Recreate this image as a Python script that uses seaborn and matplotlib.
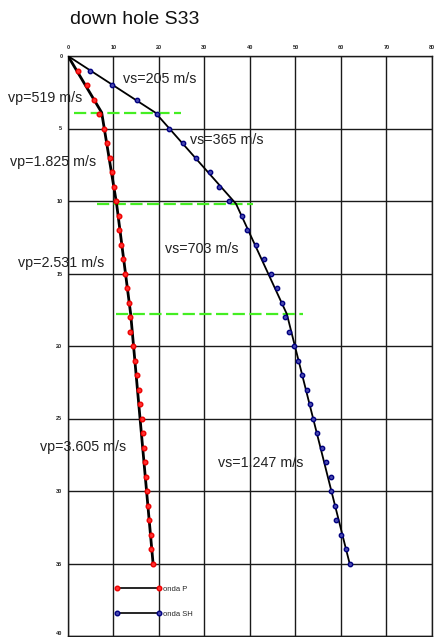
import numpy as np
import pandas as pd
import matplotlib
matplotlib.use("Agg")
import matplotlib.pyplot as plt
from matplotlib.lines import Line2D
import seaborn as sns

# ---------------- data ----------------
depth = list(range(1, 36))
t_p = [2.1, 4.2, 5.8, 6.9, 8.0, 8.6, 9.2, 9.6, 10.1, 10.5,
       11.1, 11.3, 11.6, 12.0, 12.6, 13.0, 13.4, 13.6, 13.7, 14.2,
       14.7, 15.2, 15.7, 15.8, 16.3, 16.5, 16.8, 16.9, 17.1, 17.3,
       17.5, 17.8, 18.2, 18.2, 18.6]
t_s = [4.8, 9.6, 15.1, 19.5, 22.1, 25.2, 28.1, 31.2, 33.2, 35.4,
       38.3, 39.4, 41.3, 43.1, 44.6, 45.9, 47.0, 47.7, 48.6, 49.7,
       50.6, 51.4, 52.5, 53.2, 53.9, 54.8, 55.8, 56.7, 57.7, 57.8,
       58.7, 59.0, 60.1, 61.2, 62.0]
layer_bounds = [0.0, 3.9, 10.2, 17.8, 35.0]
vp = [519, 1825, 2531, 3605]
vs = [205, 365, 703, 1247]
vp_labels = ["vp=519 m/s", "vp=1.825 m/s", "vp=2.531 m/s", "vp=3.605 m/s"]
vs_labels = ["vs=205 m/s", "vs=365 m/s", "vs=703 m/s", "vs=1.247 m/s"]
green_x0 = [1.3, 6.3, 10.5]
green_x1 = [24.8, 40.7, 51.7]
title = "down hole S33"
legend_labels = ["onda P", "onda SH"]

df = pd.DataFrame({"depth": depth, "tp": t_p, "ts": t_s})


def fit_polyline(t, v):
    d = np.asarray(depth, float)
    t = np.asarray(t, float)
    preds = []
    for i, vel in enumerate(v):
        lo, hi = layer_bounds[i], layer_bounds[i + 1]
        m = (d > lo) & (d <= hi + 0.3)
        if i == 0:
            b = 0.0
        else:
            b = np.mean(t[m] - d[m] / vel * 1000)
        preds.append((b, vel))
    times = [0.0]
    for k in range(1, len(layer_bounds) - 1):
        z = layer_bounds[k]
        a = preds[k - 1][0] + z / preds[k - 1][1] * 1000
        c = preds[k][0] + z / preds[k][1] * 1000
        times.append((a + c) / 2)
    z = layer_bounds[-1]
    times.append(preds[-1][0] + z / preds[-1][1] * 1000)
    return pd.DataFrame({"t": times, "depth": layer_bounds})


fit_p = fit_polyline(t_p, vp)
fit_s = fit_polyline(t_s, vs)

# ---------------- figure ----------------
sns.set_style("white")
plt.rcParams["font.family"] = ["Liberation Sans", "DejaVu Sans"]
fig = plt.figure(figsize=(4.39, 6.37), dpi=100)
ax = fig.add_axes([68 / 439, 1 / 637, (432 - 68) / 439, (636 - 56) / 637])

ax.set_xlim(0, 80)
ax.set_ylim(40, 0)
ax.set_xticks(np.arange(0, 81, 10))
ax.set_yticks(np.arange(0, 41, 5))
ax.xaxis.tick_top()
ax.tick_params(axis="both", labelsize=4, length=0, pad=4)
for lbl in ax.get_xticklabels() + ax.get_yticklabels():
    lbl.set_fontweight("bold")
ax.get_yticklabels()[-1].set_verticalalignment("bottom")
ax.grid(True, color="#1a1a1a", linewidth=1.0)
for s in ax.spines.values():
    s.set_color("#1a1a1a")
    s.set_linewidth(1.0)

# green layer boundaries
for z, x0, x1 in zip(layer_bounds[1:4], green_x0, green_x1):
    ax.plot([x0, x1], [z, z], color="#44ee22", linewidth=1.6,
            dashes=(5.5, 2.0), zorder=3)

# fitted lines
sns.lineplot(data=fit_p, x="t", y="depth", sort=False, estimator=None,
             color="black", linewidth=2.0, ax=ax, zorder=4)
sns.lineplot(data=fit_s, x="t", y="depth", sort=False, estimator=None,
             color="black", linewidth=1.3, ax=ax, zorder=4)

# points
sns.scatterplot(data=df, x="tp", y="depth", ax=ax, marker="o", s=11,
                facecolor="#ff3030", edgecolor="#ee0000", linewidth=1.0,
                zorder=5)
sns.scatterplot(data=df, x="ts", y="depth", ax=ax, marker="o", s=10,
                facecolor="#4a4ab0", edgecolor="#000080", linewidth=1.0,
                zorder=5)
ax.set_xlabel("")
ax.set_ylabel("")

# velocity labels
fs = 10.3
pos_vs = [(12.1, 1.6), (26.8, 5.8), (21.3, 13.3), (33.0, 28.1)]
pos_vp = [(-13.2, 2.9), (-12.7, 7.3), (-11.0, 14.3), (-6.2, 27.0)]
for (x, y), s in zip(pos_vs, vs_labels):
    ax.text(x, y, s, fontsize=fs, color="#222222", va="center", ha="left",
            clip_on=False, zorder=6)
for (x, y), s in zip(pos_vp, vp_labels):
    ax.text(x, y, s, fontsize=fs, color="#222222", va="center", ha="left",
            clip_on=False, zorder=6)

# title
fig.text(70 / 439, 1 - 20 / 637, title, fontsize=14, color="#111111",
         ha="left", va="center")

# legend
handles = [
    Line2D([], [], color="black", linewidth=1.2, marker="o", markersize=3.3,
           markerfacecolor="#ff3030", markeredgecolor="#ee0000"),
    Line2D([], [], color="black", linewidth=1.2, marker="o", markersize=3.3,
           markerfacecolor="#4a4ab0", markeredgecolor="#000080"),
]
ax.legend(handles, legend_labels, numpoints=2, frameon=False, fontsize=5.5,
          handlelength=6, labelspacing=2.3, handletextpad=0.3,
          loc="upper left", bbox_to_anchor=(10.0, 36.4),
          bbox_transform=ax.transData, borderaxespad=0, borderpad=0.2)

fig.savefig("out.png", dpi=100)
